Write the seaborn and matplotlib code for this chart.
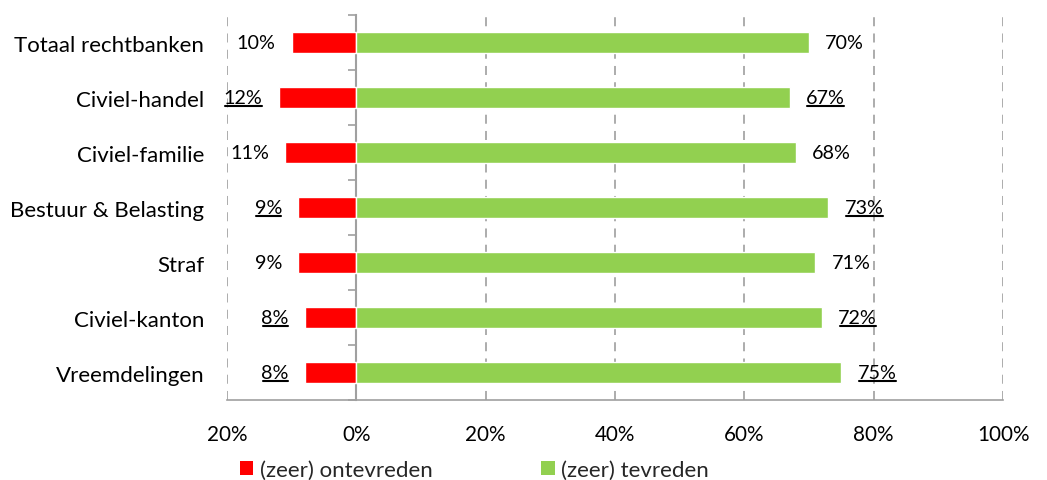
import matplotlib
matplotlib.use("Agg")
import matplotlib.pyplot as plt
from matplotlib.patches import Patch
from matplotlib.lines import Line2D
import seaborn as sns
import pandas as pd

categories = ["Totaal rechtbanken", "Civiel-handel", "Civiel-familie",
              "Bestuur & Belasting", "Straf", "Civiel-kanton", "Vreemdelingen"]
ontevreden = [10, 12, 11, 9, 9, 8, 8]
tevreden = [70, 67, 68, 73, 71, 72, 75]
underlined = [False, True, False, True, False, True, True]
x_ticks = [-20, 0, 20, 40, 60, 80, 100]
series_names = ["(zeer) ontevreden", "(zeer) tevreden"]

RED = "#FF0000"
GREEN = "#92D050"
GRID = "#A6A6A6"
AXIS = "#A0A0A0"

sns.set_theme(style="white")
plt.rcParams["font.family"] = ["Lato", "DejaVu Sans"]

df = pd.DataFrame({"cat": categories,
                   "neg": [-v for v in ontevreden],
                   "pos": tevreden})

fig = plt.figure(figsize=(10.47, 4.81), dpi=100)
ax = fig.add_axes([0.2168, 0.1663, 0.958 - 0.2168, 0.9667 - 0.1663])

sns.barplot(data=df, x="neg", y="cat", orient="h", color=RED, width=0.38,
            saturation=1, ax=ax, zorder=3)
sns.barplot(data=df, x="pos", y="cat", orient="h", color=GREEN, width=0.38,
            saturation=1, ax=ax, zorder=3)

ax.set_xlim(-20, 100)
ax.set_ylim(6.5, -0.5)
ax.set_xlabel("")
ax.set_ylabel("")

# x axis: percentages shown as magnitudes on both sides of zero
ax.set_xticks(x_ticks)
ax.set_xticklabels([f"{abs(t)}%" for t in x_ticks], fontsize=14.9)
ax.tick_params(axis="x", direction="out", length=6, width=1.2, color=AXIS,
               pad=11, labelcolor="black")
ax.tick_params(axis="y", length=0, pad=16.5, labelsize=16, labelcolor="black")

for t in x_ticks:
    if t != 0:
        ax.axvline(t, color=GRID, lw=1.3, ls=(0, (5, 4)), zorder=1)

for side in ["top", "right", "left"]:
    ax.spines[side].set_visible(False)
ax.spines["bottom"].set_color(AXIS)
ax.spines["bottom"].set_linewidth(1.2)

# vertical axis at zero with category separator ticks
zero_axis = ax.secondary_yaxis(1 / 6)
zero_axis.set_yticks([i + 0.5 for i in range(-1, len(categories))])
zero_axis.set_yticklabels([])
zero_axis.tick_params(axis="y", direction="out", length=6, width=1.2, color=AXIS)
zero_axis.spines["left"].set_color(AXIS)
zero_axis.spines["left"].set_linewidth(1.5)
for side in ["top", "right", "bottom"]:
    zero_axis.spines[side].set_visible(False)

# value labels
texts = []
for i, (n, p, u) in enumerate(zip(ontevreden, tevreden, underlined)):
    tn = ax.text(-n - 2.5, i, f"{n}%", ha="right", va="center",
                 fontsize=14.2, color="black", zorder=4)
    tp = ax.text(p + 2.5, i, f"{p}%", ha="left", va="center",
                 fontsize=14.2, color="black", zorder=4)
    if u:
        texts.extend([tn, tp])

fig.canvas.draw()
renderer = fig.canvas.get_renderer()
inv = ax.transData.inverted()
for t in texts:
    bb = t.get_window_extent(renderer)
    (x0, y0), (x1, _) = inv.transform([(bb.x0 + 1.5, bb.y0 + 0.5),
                                       (bb.x1 - 0.5, bb.y0 + 0.5)])
    ax.add_line(Line2D([x0, x1], [y0, y0], color="black", lw=1.5,
                       clip_on=False, zorder=4))

handles = [Patch(facecolor=RED, edgecolor="none"),
           Patch(facecolor=GREEN, edgecolor="none")]
fig.legend(handles, series_names, loc="center left",
           bbox_to_anchor=(0.229, 0.021), ncol=2, frameon=False,
           fontsize=16, handlelength=0.6, handleheight=0.6,
           handletextpad=0.3, columnspacing=4.9, borderaxespad=0,
           borderpad=0)

fig.savefig("out.png", dpi=100)
